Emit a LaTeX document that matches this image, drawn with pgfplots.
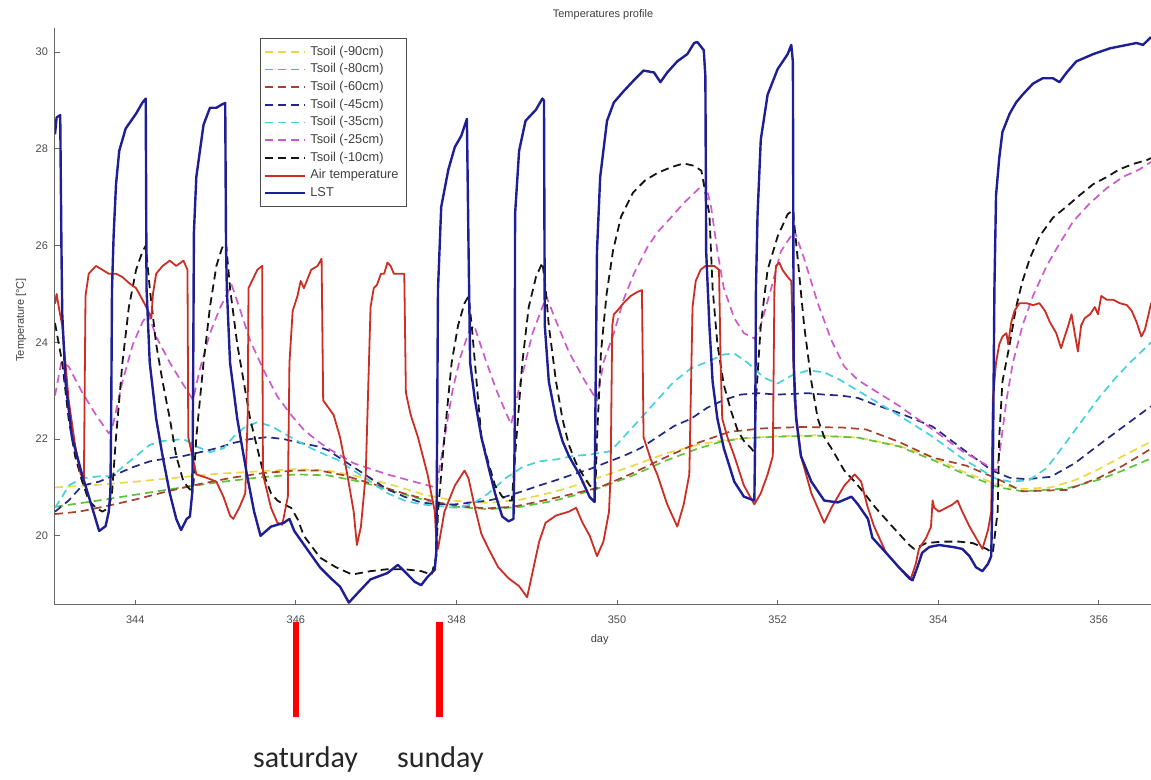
\documentclass[border=0pt]{standalone}
\usepackage{fontspec}
\setmainfont{Liberation Sans}
\newfontfamily\carlito{Carlito}
\usepackage{pgfplots}
\pgfplotsset{compat=1.18}
\definecolor{cY}{RGB}{238,215,70}
\definecolor{cG}{RGB}{95,195,60}
\definecolor{cBr}{RGB}{165,65,45}
\definecolor{cNv}{RGB}{35,40,130}
\definecolor{cCy}{RGB}{70,210,220}
\definecolor{cMg}{RGB}{205,90,205}
\definecolor{cBk}{RGB}{20,20,20}
\definecolor{cAir}{RGB}{205,45,35}
\definecolor{cLST}{RGB}{30,30,150}
\begin{document}
\begin{tikzpicture}
\path[use as bounding box] (-27.5pt,-87.5pt) rectangle (548pt,302.5pt);
\begin{axis}[
  at={(0pt,0pt)}, anchor=south west,
  scale only axis, width=548pt, height=288.5pt,
  xmin=343, xmax=356.65, ymin=18.57, ymax=30.5,
  axis x line=bottom, axis y line=left,
  axis line style={-, black!60, line width=0.5pt},
  tick align=inside, major tick length=2.5pt,
  tick style={black!60, line width=0.5pt},
  xtick={344,346,...,356}, ytick={20,22,...,30},
  ticklabel style={font=\fontsize{5.5}{6}\selectfont, text=black!70},
  /pgf/number format/assume math mode=true,
  xticklabel style={yshift=-2pt},
  xlabel={day}, ylabel={Temperature [°C]},
  xlabel style={font=\fontsize{5.5}{6}\selectfont, text=black!75, at={(axis description cs:0.497,0)}, anchor=center, yshift=-17.5pt},
  ylabel style={font=\fontsize{5.5}{6}\selectfont, text=black!75, at={(axis description cs:-0.031,0.494)}, anchor=center},
  title={Temperatures profile},
  title style={font=\fontsize{5.5}{6}\selectfont, text=black!75, at={(axis description cs:0.5,1)}, anchor=center, yshift=0.5pt},
  clip mode=individual,
  legend cell align=left,
  legend style={at={(0.187,0.983)}, anchor=north west, font=\fontsize{6.4}{7}\selectfont, draw=black!70, line width=0.4pt, row sep=-1.3pt, inner sep=1.8pt, text=black!75},
  legend image code/.code={\draw[#1] (0pt,0pt) -- (20pt,0pt);},
  every axis plot/.append style={line join=round},
]
% Tsoil -90
\addplot[cY, line width=0.85pt, dash pattern=on 4pt off 2.5pt] coordinates {
(343.0,21.0) (343.5,21.05) (344.0,21.12) (344.5,21.2) (345.0,21.28) (345.5,21.33) (346.0,21.38) (346.4,21.35) (346.8,21.22) (347.2,21.05) (347.6,20.85) (348.0,20.72) (348.4,20.68) (348.8,20.75) (349.2,20.9) (349.5,21.05) (349.8,21.22) (350.2,21.45) (350.6,21.7) (351.0,21.88) (351.3,21.97) (351.6,22.02) (352.0,22.06) (352.5,22.08) (353.0,22.03) (353.5,21.87) (353.93,21.62) (354.35,21.3) (354.76,21.05) (355.05,20.97) (355.4,21.0) (355.7,21.15) (356.0,21.38) (356.3,21.65) (356.65,21.95)};
\addlegendentry{Tsoil (-90cm)}
% Tsoil -80
\addplot[cG, line width=0.85pt, dash pattern=on 4pt off 2.5pt] coordinates {
(343.0,20.6) (343.5,20.72) (344.0,20.85) (344.5,20.98) (345.0,21.1) (345.5,21.2) (346.0,21.27) (346.4,21.25) (346.8,21.12) (347.2,20.93) (347.6,20.74) (348.0,20.6) (348.4,20.55) (348.8,20.6) (349.2,20.72) (349.5,20.85) (349.8,21.0) (350.2,21.25) (350.6,21.55) (351.0,21.8) (351.3,21.95) (351.6,22.02) (352.0,22.05) (352.5,22.07) (353.0,22.03) (353.51,21.85) (353.93,21.57) (354.35,21.26) (354.76,21.0) (355.05,20.92) (355.6,20.98) (356.0,21.16) (356.3,21.35) (356.65,21.6)};
\addlegendentry{Tsoil (-80cm)}
% Tsoil -60
\addplot[cBr, line width=0.85pt, dash pattern=on 4pt off 2.5pt] coordinates {
(343.0,20.45) (343.3,20.5) (343.6,20.6) (344.0,20.75) (344.4,20.92) (344.8,21.07) (345.2,21.2) (345.6,21.3) (346.0,21.35) (346.3,21.35) (346.6,21.25) (347.0,21.05) (347.4,20.85) (347.8,20.68) (348.1,20.6) (348.4,20.57) (348.7,20.6) (349.0,20.7) (349.4,20.85) (349.78,21.0) (350.2,21.3) (350.6,21.62) (351.0,21.92) (351.4,22.15) (351.8,22.22) (352.3,22.25) (352.8,22.24) (353.1,22.2) (353.5,21.95) (353.93,21.62) (354.35,21.45) (354.76,21.16) (355.05,20.92) (355.6,20.95) (356.0,21.2) (356.3,21.45) (356.65,21.8)};
\addlegendentry{Tsoil (-60cm)}
% Tsoil -45
\addplot[cNv, line width=0.85pt, dash pattern=on 4pt off 2.5pt] coordinates {
(343.0,20.5) (343.17,20.73) (343.34,21.04) (343.55,21.12) (343.76,21.27) (343.97,21.42) (344.18,21.54) (344.39,21.6) (344.6,21.65) (344.81,21.73) (345.01,21.81) (345.22,21.92) (345.43,22.0) (345.64,22.04) (345.85,22.0) (346.06,21.92) (346.27,21.85) (346.4,21.77) (346.51,21.65) (346.72,21.42) (346.93,21.19) (347.14,20.96) (347.35,20.81) (347.56,20.69) (347.77,20.65) (347.98,20.65) (348.19,20.69) (348.4,20.73) (348.61,20.81) (348.82,20.92) (349.03,21.04) (349.24,21.15) (349.45,21.27) (349.66,21.38) (349.92,21.55) (350.08,21.65) (350.29,21.81) (350.5,22.04) (350.71,22.27) (350.92,22.42) (351.125,22.65) (351.33,22.81) (351.54,22.92) (351.75,22.95) (352.0,22.92) (352.375,22.95) (352.58,22.92) (352.79,22.9) (353.0,22.85) (353.2,22.72) (353.5,22.55) (353.93,22.26) (354.3,21.8) (354.67,21.35) (354.89,21.2) (355.1,21.17) (355.4,21.22) (355.7,21.5) (356.0,21.88) (356.3,22.25) (356.65,22.68)};
\addlegendentry{Tsoil (-45cm)}
% Tsoil -35
\addplot[cCy, line width=0.85pt, dash pattern=on 4pt off 2.5pt] coordinates {
(343.0,20.58) (343.09,20.81) (343.17,21.04) (343.34,21.19) (343.55,21.23) (343.71,21.23) (343.84,21.42) (344.01,21.65) (344.18,21.88) (344.34,21.96) (344.6,22.0) (344.76,21.85) (344.93,21.73) (345.1,21.81) (345.22,22.04) (345.35,22.23) (345.52,22.35) (345.69,22.27) (345.85,22.12) (346.02,21.96) (346.19,21.81) (346.4,21.65) (346.51,21.58) (346.72,21.35) (346.93,21.12) (347.14,20.88) (347.35,20.73) (347.56,20.65) (347.77,20.62) (347.98,20.58) (348.19,20.65) (348.4,20.88) (348.61,21.19) (348.82,21.42) (349.03,21.54) (349.24,21.58) (349.45,21.65) (349.66,21.68) (349.92,21.75) (350.08,22.04) (350.29,22.42) (350.5,22.81) (350.71,23.19) (350.92,23.46) (351.125,23.6) (351.33,23.75) (351.46,23.77) (351.625,23.58) (351.83,23.27) (352.0,23.15) (352.17,23.31) (352.375,23.42) (352.58,23.38) (352.77,23.23) (353.0,23.0) (353.5,22.5) (353.93,22.05) (354.3,21.6) (354.72,21.18) (354.9,21.12) (355.13,21.15) (355.35,21.4) (355.6,21.95) (355.8,22.4) (356.0,22.85) (356.2,23.25) (356.4,23.6) (356.65,24.0)};
\addlegendentry{Tsoil (-35cm)}
% Tsoil -25
\addplot[cMg, line width=0.85pt, dash pattern=on 4pt off 2.5pt] coordinates {
(343.0,22.9) (343.08,23.6) (343.17,23.5) (343.34,22.96) (343.51,22.5) (343.67,22.12) (343.71,22.2) (343.84,23.19) (343.97,23.96) (344.09,24.42) (344.16,24.6) (344.26,24.12) (344.43,23.58) (344.6,23.12) (344.72,22.81) (344.8,23.42) (344.93,24.19) (345.06,24.73) (345.2,25.19) (345.31,24.65) (345.43,24.04) (345.6,23.42) (345.77,22.88) (345.94,22.5) (346.1,22.19) (346.27,21.96) (346.4,21.81) (346.72,21.5) (347.14,21.27) (347.56,21.08) (347.75,21.0) (347.85,22.0) (347.95,23.0) (348.05,23.7) (348.15,24.2) (348.22,24.35) (348.35,23.7) (348.5,23.0) (348.68,22.3) (348.8,23.2) (348.95,24.2) (349.12,24.95) (349.25,24.4) (349.4,23.8) (349.6,23.2) (349.75,22.8) (349.83,23.58) (349.96,24.19) (350.08,24.88) (350.21,25.42) (350.375,25.96) (350.5,26.27) (350.67,26.58) (350.83,26.88) (351.0,27.15) (351.1,27.3) (351.17,26.81) (351.25,25.88) (351.33,25.12) (351.46,24.5) (351.58,24.19) (351.71,24.08) (351.79,24.35) (351.92,25.12) (352.04,25.88) (352.21,26.31) (352.33,25.73) (352.5,24.81) (352.67,24.04) (352.83,23.5) (353.0,23.22) (353.5,22.7) (353.93,22.2) (354.3,21.75) (354.72,21.35) (354.76,21.65) (354.85,22.81) (354.93,23.58) (355.05,24.35) (355.18,24.96) (355.35,25.58) (355.51,26.04) (355.68,26.5) (355.89,26.88) (356.1,27.19) (356.3,27.42) (356.51,27.58) (356.65,27.73)};
\addlegendentry{Tsoil (-25cm)}
% Tsoil -10
\addplot[cBk, line width=0.9pt, dash pattern=on 4pt off 2.5pt] coordinates {
(343.0,24.4) (343.09,23.58) (343.17,22.42) (343.25,21.65) (343.34,21.12) (343.42,20.73) (343.51,20.58) (343.59,20.5) (343.67,20.58) (343.71,20.88) (343.76,22.04) (343.84,23.58) (343.92,24.73) (344.01,25.5) (344.09,25.88) (344.13,26.0) (344.18,25.12) (344.26,23.96) (344.34,23.19) (344.43,22.42) (344.51,21.65) (344.6,21.12) (344.68,20.96) (344.72,20.96) (344.76,22.04) (344.85,23.58) (344.93,24.73) (345.01,25.58) (345.08,25.95) (345.13,26.05) (345.18,25.12) (345.27,23.96) (345.35,23.19) (345.43,22.42) (345.52,21.81) (345.6,21.27) (345.69,20.88) (345.77,20.73) (345.85,20.65) (345.94,20.58) (346.02,20.35) (346.1,20.0) (346.3,19.55) (346.5,19.35) (346.7,19.2) (346.93,19.27) (347.14,19.31) (347.35,19.31) (347.56,19.27) (347.69,19.2) (347.75,19.58) (347.77,20.5) (347.85,22.04) (347.94,23.58) (348.02,24.35) (348.1,24.81) (348.15,24.95) (348.19,24.35) (348.23,23.58) (348.27,22.81) (348.31,22.04) (348.4,21.5) (348.48,21.04) (348.57,20.81) (348.65,20.73) (348.69,20.73) (348.73,21.65) (348.82,23.58) (348.9,24.73) (348.99,25.35) (349.07,25.65) (349.11,25.12) (349.15,24.35) (349.24,23.19) (349.32,22.42) (349.4,21.88) (349.49,21.5) (349.57,21.27) (349.66,21.04) (349.73,20.95) (349.75,22.0) (349.8,23.8) (349.87,25.0) (349.95,25.9) (350.05,26.6) (350.2,27.1) (350.35,27.35) (350.5,27.5) (350.67,27.62) (350.83,27.7) (350.96,27.65) (351.05,27.55) (351.15,26.65) (351.19,25.12) (351.25,23.96) (351.33,23.12) (351.42,22.58) (351.5,22.19) (351.58,21.96) (351.67,21.81) (351.71,21.73) (351.73,22.81) (351.79,24.35) (351.875,25.5) (352.0,26.19) (352.125,26.65) (352.19,26.73) (352.25,25.73) (352.33,24.35) (352.42,23.19) (352.5,22.42) (352.58,22.04) (352.67,21.81) (352.75,21.58) (352.83,21.35) (352.96,21.12) (353.08,20.88) (353.22,20.58) (353.43,20.19) (353.64,19.81) (353.7,19.73) (353.85,19.85) (354.05,19.88) (354.26,19.88) (354.43,19.85) (354.6,19.73) (354.68,19.65) (354.74,20.5) (354.76,22.04) (354.8,23.19) (354.89,23.96) (354.97,24.73) (355.05,25.27) (355.14,25.73) (355.26,26.19) (355.43,26.58) (355.6,26.81) (355.76,27.04) (355.93,27.27) (356.1,27.42) (356.26,27.58) (356.43,27.69) (356.6,27.77) (356.65,27.81)};
\addlegendentry{Tsoil (-10cm)}
% Air temperature
\addplot[cAir, line width=0.9pt] coordinates {
(343.0,24.8) (343.02,25.0) (343.05,24.7) (343.09,24.35) (343.13,23.58) (343.17,22.81) (343.25,21.88) (343.32,21.27) (343.36,21.2) (343.38,24.96) (343.42,25.42) (343.51,25.58) (343.59,25.5) (343.67,25.42) (343.76,25.42) (343.84,25.35) (343.92,25.23) (344.01,25.12) (344.09,24.88) (344.16,24.65) (344.2,24.5) (344.22,25.0) (344.26,25.42) (344.34,25.58) (344.43,25.69) (344.51,25.58) (344.6,25.69) (344.65,25.5) (344.66,22.04) (344.76,21.27) (344.89,21.2) (345.01,21.12) (345.1,20.8) (345.18,20.42) (345.22,20.35) (345.3,20.6) (345.37,20.88) (345.4,22.5) (345.41,25.12) (345.52,25.5) (345.58,25.58) (345.59,21.27) (345.69,20.58) (345.77,20.27) (345.83,20.23) (345.9,20.81) (345.92,23.58) (345.96,24.65) (346.02,24.96) (346.06,25.27) (346.1,25.12) (346.19,25.5) (346.27,25.58) (346.32,25.73) (346.34,22.8) (346.47,22.5) (346.55,22.04) (346.64,21.27) (346.72,20.5) (346.76,19.81) (346.81,20.19) (346.87,21.27) (346.91,23.58) (346.93,24.73) (346.97,25.12) (347.01,25.19) (347.06,25.42) (347.1,25.42) (347.14,25.65) (347.18,25.58) (347.22,25.42) (347.31,25.42) (347.35,25.42) (347.37,22.96) (347.43,22.5) (347.52,22.04) (347.64,21.27) (347.73,20.5) (347.75,19.88) (347.77,19.73) (347.85,20.5) (347.98,21.04) (348.1,21.35) (348.15,21.19) (348.23,20.58) (348.31,20.04) (348.4,19.73) (348.52,19.35) (348.65,19.12) (348.78,18.96) (348.88,18.73) (348.94,19.19) (349.03,19.88) (349.11,20.27) (349.24,20.42) (349.4,20.5) (349.49,20.58) (349.57,20.27) (349.66,20.0) (349.75,19.58) (349.83,19.88) (349.9,20.5) (349.92,21.27) (349.94,24.35) (349.96,24.58) (350.0,24.65) (350.08,24.81) (350.17,24.96) (350.25,25.04) (350.31,25.08) (350.33,22.04) (350.42,21.58) (350.5,21.27) (350.625,20.65) (350.75,20.19) (350.83,20.65) (350.9,21.27) (350.94,24.73) (350.98,25.27) (351.04,25.5) (351.1,25.58) (351.21,25.58) (351.27,25.5) (351.29,23.58) (351.31,22.42) (351.375,22.04) (351.46,21.65) (351.58,21.04) (351.71,20.65) (351.79,20.88) (351.875,21.27) (351.94,21.65) (351.96,25.12) (351.98,25.58) (352.02,25.65) (352.06,25.5) (352.125,25.35) (352.17,25.27) (352.21,22.81) (352.29,21.65) (352.42,20.88) (352.58,20.27) (352.67,20.58) (352.83,21.04) (352.96,21.27) (353.04,21.12) (353.12,20.6) (353.2,20.2) (353.35,19.65) (353.51,19.35) (353.66,19.12) (353.72,19.42) (353.76,19.73) (353.85,19.96) (353.91,20.19) (353.93,20.73) (353.95,20.58) (354.01,20.5) (354.1,20.58) (354.18,20.65) (354.24,20.73) (354.3,20.5) (354.39,20.19) (354.47,19.96) (354.55,19.73) (354.62,20.12) (354.66,20.5) (354.68,22.81) (354.72,23.58) (354.76,23.96) (354.8,24.12) (354.85,24.19) (354.87,23.96) (354.91,24.42) (354.95,24.65) (355.01,24.81) (355.1,24.81) (355.18,24.77) (355.26,24.81) (355.33,24.65) (355.39,24.42) (355.47,24.19) (355.53,23.88) (355.575,24.12) (355.62,24.35) (355.66,24.58) (355.7,24.19) (355.74,23.81) (355.78,24.35) (355.825,24.5) (355.89,24.58) (355.95,24.73) (355.99,24.58) (356.03,24.96) (356.1,24.88) (356.18,24.88) (356.26,24.81) (356.35,24.77) (356.41,24.65) (356.47,24.42) (356.53,24.12) (356.575,24.27) (356.62,24.58) (356.65,24.81)};
\addlegendentry{Air temperature}
% LST
\addplot[cLST, line width=1.2pt] coordinates {
(343.0,28.3) (343.02,28.65) (343.065,28.7) (343.08,26.0) (343.09,24.6) (343.13,23.2) (343.21,22.05) (343.34,21.25) (343.46,20.6) (343.55,20.1) (343.63,20.2) (343.67,20.5) (343.69,20.9) (343.7,22.5) (343.71,25.1) (343.73,26.2) (343.76,27.27) (343.8,27.96) (343.88,28.42) (344.01,28.73) (344.09,28.96) (344.13,29.04) (344.14,25.12) (344.18,23.58) (344.26,22.42) (344.34,21.65) (344.43,20.88) (344.51,20.35) (344.57,20.12) (344.64,20.35) (344.68,20.4) (344.71,20.9) (344.72,23.0) (344.73,26.27) (344.76,27.42) (344.85,28.5) (344.93,28.85) (345.01,28.85) (345.08,28.92) (345.12,28.95) (345.13,26.0) (345.14,25.12) (345.18,23.58) (345.27,22.42) (345.39,21.27) (345.48,20.5) (345.56,20.0) (345.69,20.19) (345.85,20.27) (345.92,20.35) (345.98,20.1) (346.15,19.7) (346.3,19.35) (346.45,19.1) (346.55,18.95) (346.66,18.62) (346.76,18.8) (346.93,19.1) (347.14,19.23) (347.27,19.4) (347.35,19.27) (347.48,19.05) (347.56,18.98) (347.64,19.15) (347.73,19.3) (347.75,19.7) (347.77,25.1) (347.81,26.8) (347.9,27.58) (347.98,28.04) (348.06,28.27) (348.13,28.62) (348.15,26.0) (348.17,23.58) (348.23,22.81) (348.31,22.04) (348.4,21.42) (348.48,20.88) (348.57,20.4) (348.65,20.3) (348.71,20.35) (348.725,22.0) (348.73,26.65) (348.78,27.96) (348.86,28.58) (348.99,28.81) (349.07,29.04) (349.09,29.0) (349.1,24.35) (349.15,23.19) (349.24,22.42) (349.32,21.96) (349.4,21.65) (349.53,21.27) (349.66,20.8) (349.72,20.7) (349.73,22.5) (349.75,25.88) (349.79,27.42) (349.875,28.58) (349.96,28.96) (350.08,29.19) (350.21,29.42) (350.33,29.62) (350.46,29.58) (350.54,29.38) (350.625,29.58) (350.75,29.81) (350.875,29.96) (350.96,30.19) (351.0,30.21) (351.08,30.04) (351.1,29.5) (351.11,25.88) (351.15,24.35) (351.19,23.19) (351.25,22.42) (351.33,21.81) (351.46,21.12) (351.58,20.81) (351.71,20.73) (351.72,22.0) (351.73,25.12) (351.75,26.65) (351.79,28.19) (351.875,29.12) (352.0,29.65) (352.125,29.96) (352.17,30.15) (352.19,29.8) (352.2,23.58) (352.23,22.42) (352.29,21.65) (352.42,21.12) (352.58,20.73) (352.75,20.69) (352.92,20.81) (353.0,20.65) (353.125,20.35) (353.18,19.96) (353.35,19.65) (353.51,19.35) (353.64,19.12) (353.68,19.08) (353.74,19.35) (353.8,19.65) (353.89,19.77) (354.01,19.81) (354.18,19.77) (354.3,19.73) (354.39,19.58) (354.47,19.35) (354.55,19.27) (354.62,19.42) (354.66,19.58) (354.68,21.27) (354.7,25.12) (354.72,27.04) (354.76,27.81) (354.8,28.35) (354.89,28.73) (354.97,28.96) (355.05,29.12) (355.18,29.35) (355.3,29.46) (355.43,29.46) (355.51,29.38) (355.6,29.58) (355.72,29.81) (355.93,29.96) (356.14,30.08) (356.35,30.15) (356.47,30.19) (356.55,30.15) (356.6,30.23) (356.65,30.31)};
\addlegendentry{LST}
% annotations below the axis
\draw[red, line width=3.3pt] (axis cs:346,18.22) -- (axis cs:346,16.25);
\draw[red, line width=3.3pt] (axis cs:347.79,18.22) -- (axis cs:347.79,16.25);
\node[font=\carlito\fontsize{15}{17}\selectfont, text=black!85] at (axis cs:346.12,15.38) {saturday};
\node[font=\carlito\fontsize{15}{17}\selectfont, text=black!85] at (axis cs:347.8,15.38) {sunday};
\end{axis}
\end{tikzpicture}
\end{document}
